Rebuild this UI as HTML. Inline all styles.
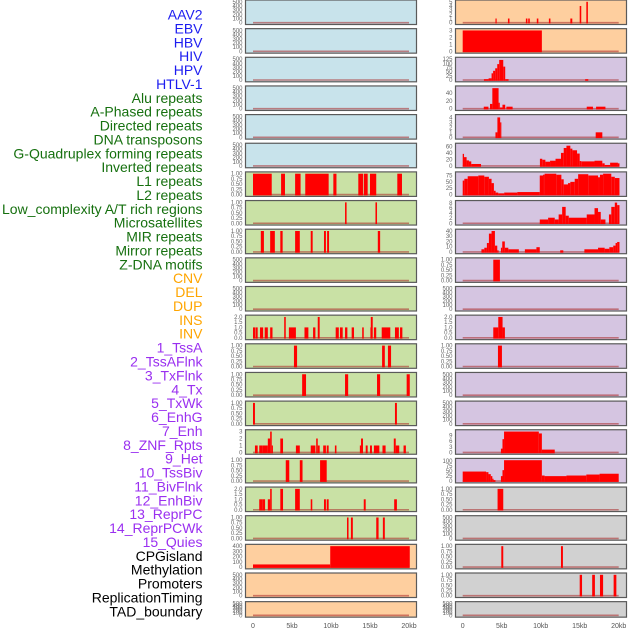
<!DOCTYPE html>
<html><head><meta charset="utf-8">
<style>
html,body{margin:0;padding:0;background:#fff;width:630px;height:630px;overflow:hidden}
svg{display:block;font-family:"Liberation Sans",sans-serif}
</style></head>
<body>
<svg id="chart" width="630" height="630" viewBox="0 0 630 630"></svg>
<script>
// ---- data ----
const trackLabels = ["AAV2","EBV","HBV","HIV","HPV","HTLV-1","Alu repeats","A-Phased repeats","Directed repeats","DNA transposons","G-Quadruplex forming repeats","Inverted repeats","L1 repeats","L2 repeats","Low_complexity A/T rich regions","Microsatellites","MIR repeats","Mirror repeats","Z-DNA motifs","CNV","DEL","DUP","INS","INV","1_TssA","2_TssAFlnk","3_TxFlnk","4_Tx","5_TxWk","6_EnhG","7_Enh","8_ZNF_Rpts","9_Het","10_TssBiv","11_BivFlnk","12_EnhBiv","13_ReprPC","14_ReprPCWk","15_Quies","CPGisland","Methylation","Promoters","ReplicationTiming","TAD_boundary"];
const labelGroups = ["v","v","v","v","v","v","r","r","r","r","r","r","r","r","r","r","r","r","r","c","c","c","c","c","h","h","h","h","h","h","h","h","h","h","h","h","h","h","h","o","o","o","o","o"];
const xTickLabels = ["0","5kb","10kb","15kb","20kb"];
const xTickValues = [0,5,10,15,20];

const T500=[0,100,200,300,400,500], T1=[0,0.25,0.5,0.75,1], T2=[0,0.5,1,1.5,2];
const leftTicks = [T500,T500,T500,T500,T500,T500,T1,T1,T1,T500,T500,T2,T1,T1,T1,[0,1,2,3],T1,T2,T1,[0,100,200,300,400],T500,T500];
const leftMax = [500,500,500,500,500,500,1,1,1,500,500,2,1,1,1,3,1,2,1,400,500,500];
const leftBg = ["b","b","b","b","b","b","g","g","g","g","g","g","g","g","g","g","g","g","g","o","o","o"];
const rightTicks = [[0,1,2,3,4,5],[0,1,2,3],[0,25,50,75,100,125],[0,20,40],[0,1,2,3,4],[0,20,40,60],[0,25,50,75],[0,2,4,6,8],[0,10,20,30,40],T1,T500,T2,T1,T500,T500,[0,3,6,9],[0,25,50,75,100],T1,T500,T1,T1,T500];
const rightMax = [5,3,125,53,4.2,64,82,8.3,40,1,500,2,1,500,500,11,105,1,500,1,1,500];
const rightBg = ["o","o","p","p","p","p","p","p","p","p","p","p","p","p","p","p","p","gr","gr","gr","gr","gr"];

const leftBars = [[],[],[],[],[],[],
 [[0,2.4,1],[3.6,4.1,1],[5.4,6.1,1],[6.7,9.7,1],[10.3,10.7,1],[13.5,14.1,1],[14.2,14.7,1],[15,15.8,1],[18.5,19.1,1]],
 [[11.8,12.0,1],[15.7,15.9,1]],
 [[1.0,1.4,1],[2.2,2.8,1],[3.5,3.8,1],[5.4,6.0,1],[7.4,7.65,1],[9.1,9.35,1],[9.5,9.75,1],[16.0,16.3,1]],
 [],[],
 [[0,0.3,1],[0.35,0.6,1],[0.9,1.3,1],[1.5,1.9,1],[2.2,2.5,1],[4.0,4.2,2],[4.6,5.5,1],[6.6,7.1,1],[7.7,8.0,1],[8.3,8.55,2],[10.6,11.0,1],[11.15,11.5,1],[11.8,12.1,1],[12.65,12.95,1],[14.0,14.2,1],[15.05,15.1,1],[15.1,15.35,2],[15.5,15.8,1],[16.5,17.6,1],[18.2,18.7,1],[18.85,19.15,1]],
 [[5.25,5.65,1],[16.55,16.9,1],[17.3,17.7,1]],
 [[6.3,6.8,1],[11.8,12.2,1],[15.9,16.3,1],[19.7,20.1,1]],
 [[0,0.25,1],[18.2,18.45,1]],
 [[0.25,0.6,1],[0.8,1.25,1],[1.25,1.9,1],[1.9,2.2,2],[2.2,2.4,3],[2.4,2.5,1],[3.5,3.85,2],[5.5,6.0,1],[7.4,8.0,1],[8.1,8.3,2],[8.3,8.55,1],[9.0,9.35,1],[9.45,9.7,1],[10.5,10.7,1],[13.7,13.85,1],[13.85,14.1,2],[14.45,14.7,1],[15.0,15.25,1],[15.5,16.2,1],[16.6,17.0,1],[18.05,18.3,2],[18.3,18.75,1],[19.3,19.6,1]],
 [[4.2,4.65,1],[6.0,6.35,1],[8.6,9.45,1]],
 [[0.8,1.25,1],[1.25,1.55,1],[1.9,2.2,1],[2.2,2.4,2],[3.5,3.85,2],[5.4,6.0,2],[7.4,7.6,1],[9.1,9.35,1],[9.45,9.7,1],[14.2,14.45,1],[18.1,18.45,1]],
 [[12.05,12.25,1],[12.55,12.8,1],[15.8,16.1,1],[16.65,16.9,1]],
 [[0,9.9,50],[9.9,20.1,400]],
 [],[]];

const rightBars = [
 [[4.2,4.35,1],[5.8,6.0,1],[8.1,8.3,1],[8.4,8.6,1],[9.5,9.7,1],[11.05,11.25,1],[13.8,14.05,1],[15.0,15.2,4],[15.85,16.05,5]],
 [[0,10.15,3]],
 [[2.72,3.32,5],[3.32,3.7,10],[3.7,3.9,40],[3.9,4.17,55],[4.17,4.43,70],[4.43,4.68,95],[4.68,5.2,120],[5.2,5.45,80],[5.45,5.88,5],[15.7,16.1,5]],
 [[2.7,3.3,5],[3.5,3.8,12],[3.8,4.6,52],[4.6,4.75,15],[4.75,5.1,3],[5.1,5.45,10],[5.6,6.4,5],[15.9,16.7,5],[17.1,18.3,5]],
 [[4.2,4.45,1],[4.45,4.8,4],[4.8,4.95,3],[17.05,17.9,1]],
 [[0,0.17,37],[0.17,0.5,27],[0.5,0.8,17],[0.8,1.1,14],[1.1,2.35,6],[9.9,10.2,22],[10.2,10.6,19],[10.6,11.2,13],[11.2,11.9,16],[11.9,12.6,22],[12.6,12.95,40],[12.95,13.3,55],[13.3,13.8,62],[13.8,14.06,53],[14.06,14.66,48],[14.66,15.0,38],[15.0,15.2,15],[15.2,16.9,14],[16.9,17.9,16],[17.9,18.2,8],[18.2,18.9,3],[18.9,19.9,10],[19.9,20.1,8]],
 [[0,0.21,55],[0.21,0.64,62],[0.64,2.0,72],[2.0,2.77,75],[2.77,3.36,70],[3.36,3.7,62],[3.7,4.0,45],[4.0,4.22,15],[4.22,4.56,8],[4.56,5.32,5],[5.32,7.0,8],[7.0,9.88,10],[9.88,10.3,75],[10.3,10.5,78],[10.5,12.0,82],[12.0,12.65,78],[12.65,12.95,60],[12.95,13.5,40],[13.5,13.8,45],[13.8,14.36,50],[14.36,14.8,62],[14.8,16.1,80],[16.1,17.35,75],[17.35,17.6,68],[17.6,18.0,78],[18.0,19.05,82],[19.05,19.5,70],[19.5,20.1,65]],
 [[9.88,10.95,1.5],[10.95,11.8,2.2],[11.8,12.3,1.5],[12.3,12.75,3.5],[12.75,13.2,6.5],[13.2,13.6,3],[13.6,15.9,2.2],[15.9,16.9,3.5],[16.9,17.35,6],[17.35,17.7,4.5],[17.7,18.3,1.5],[18.75,19.05,3.5],[19.05,19.5,6.5],[19.5,19.8,8.2],[19.8,20.1,7.2]],
 [[2.4,2.77,5],[2.77,3.1,8],[3.1,3.36,17],[3.36,3.7,35],[3.7,4.13,40],[4.13,4.43,12],[4.43,4.6,3],[4.9,5.07,8],[5.07,5.4,20],[5.4,5.85,8],[5.85,7.2,5],[7.97,9.45,5],[9.45,9.88,9],[12.5,12.9,3],[15.6,17.35,5],[17.35,18.2,8],[18.2,18.8,6],[18.8,19.3,9],[19.3,19.6,12],[19.6,19.8,17],[19.8,20.1,19]],
 [[3.92,4.77,1]],
 [],
 [[3.92,4.56,1],[4.56,5.11,2],[5.11,5.41,1]],
 [[4.52,5.03,1]],
 [],[],
 [[4.9,5.1,2],[5.1,5.3,7],[5.3,9.76,11],[9.76,10.15,10],[10.15,11.8,1.5]],
 [[0,3.0,48],[3.0,3.3,45],[3.3,3.6,35],[3.6,3.8,25],[3.8,3.95,12],[3.95,4.2,5],[4.9,5.1,25],[5.1,5.3,55],[5.3,10.15,105],[10.15,10.5,28],[10.5,13.3,25],[13.3,15.85,28],[15.85,17.55,33],[17.55,20,37]],
 [[4.47,5.2,1]],
 [],
 [[4.95,5.2,1],[12.6,12.85,1]],
 [[15.0,15.3,1],[16.6,16.95,1],[17.6,18.0,1],[19.35,19.7,1]],
 []];

// ---- drawing ----
const NS="http://www.w3.org/2000/svg";
const svg=document.getElementById('chart');
const bgColors={b:"#c8e3eb",g:"#c9e1a5",o:"#fecf9f",p:"#d5c5e1",gr:"#d1d1d1"};
const groupColors={v:"#1c1cf0",r:"#16700f",c:"#ffa500",h:"#9a2ff0",o:"#000000"};
function mk(tag,attrs,parent){const e=document.createElementNS(NS,tag);for(const k in attrs)e.setAttribute(k,attrs[k]);(parent||svg).appendChild(e);return e;}
function rowTop(i){return i*28.65;}
function rowH(i){return i===21?15.5:24.5;}
function fmt(v,ticks){const dec=ticks.some(t=>t%1!==0);if(!dec)return String(v);const q=ticks.some(t=>Math.round(t*100)%50!==0);return q?v.toFixed(2):v.toFixed(1);}

function drawPanel(px,x0kb,i,ticks,max,bg,bars,side){
  const top=rowTop(i),h=rowH(i),w=171;
  const xs=kb=>x0kb+kb*7.8;
  const ys=v=>top+h-1.8-(v/max)*(h-3.6);
  const g=mk('g',{});
  
  
  const r=mk('rect',{x:px,y:top,width:w,height:h,fill:bgColors[bg],stroke:"#5a5a5a","stroke-width":1.2},g);
  
  
  ticks.forEach(t=>{
    const tx=mk('text',{x:px-3,y:ys(t)+2,"font-size":6,fill:"#666","text-anchor":"end"},g);
    tx.textContent=fmt(t,ticks);
    
    
  });
  const base=mk('line',{x1:xs(0),x2:xs(20),y1:ys(0),y2:ys(0),stroke:"rgba(170,40,40,0.55)","stroke-width":1.6},g);
  
  
  bars.forEach(b=>{
    const x1=xs(b[0]),x2=xs(b[1]);
    const y=ys(b[2]);
    const rr=mk('rect',{x:x1,y:y,width:Math.max(1.2,x2-x1),height:ys(0)-y+0.8,fill:"#ff0000"},g);
    
    
  });
}
for(let i=0;i<22;i++){
  drawPanel(245.5,253,i,leftTicks[i],leftMax[i],leftBg[i],leftBars[i],'left');
  drawPanel(455.5,462.7,i,rightTicks[i],rightMax[i],rightBg[i],rightBars[i],'right');
}
trackLabels.forEach((t,k)=>{
  const tx=mk('text',{x:202.5,y:19.5+k*13.88,"font-size":14,fill:groupColors[labelGroups[k]],"text-anchor":"end"});
  tx.textContent=t;
  
  
});
[[253,'left'],[462.7,'right']].forEach(([x0,side])=>{
  xTickValues.forEach((v,j)=>{
    const tx=mk('text',{x:x0+v*7.8,y:628,"font-size":7,fill:"#555","text-anchor":"middle"});
    tx.textContent=xTickLabels[j];
    
    
  });
});
</script>
</body></html>
